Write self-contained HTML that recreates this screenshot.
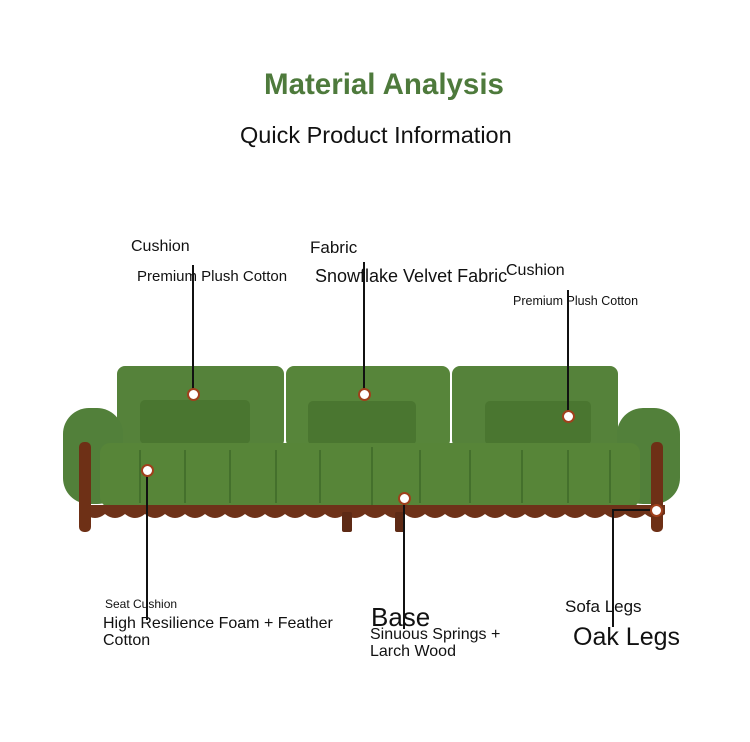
<!DOCTYPE html>
<html><head><style>
body{margin:0;width:750px;height:742px;background:#fff;position:relative;overflow:hidden;font-family:"Liberation Sans",sans-serif;color:#111}
.t{position:absolute;white-space:nowrap}
.a{position:absolute}
.ln{position:absolute;background:#111}
.dot{position:absolute;width:9px;height:9px;border-radius:50%;background:#fff;border:2px solid #a0401c;transform:translate(-6px,-6px)}
</style></head><body>
<div class="t" style="left:264px;top:68px;font-size:29.5px;font-weight:bold;color:#4e7a3c">Material Analysis</div>
<div class="t" style="left:240px;top:122px;font-size:23.5px">Quick Product Information</div>
<div class="t" style="left:131px;top:238px;font-size:16px">Cushion</div>
<div class="t" style="left:137px;top:268px;font-size:15px">Premium Plush Cotton</div>
<div class="t" style="left:310px;top:238px;font-size:17px">Fabric</div>
<div class="t" style="left:315px;top:266px;font-size:18px">Snowflake Velvet Fabric</div>
<div class="t" style="left:506px;top:262px;font-size:16px">Cushion</div>
<div class="t" style="left:513px;top:294px;font-size:12.5px">Premium Plush Cotton</div>
<div class="t" style="left:105px;top:597px;font-size:12px">Seat Cushion</div>
<div class="t" style="left:103px;top:615px;font-size:16px;line-height:17px">High Resilience Foam + Feather<br>Cotton</div>
<div class="t" style="left:371px;top:602px;font-size:26px">Base</div>
<div class="t" style="left:370px;top:626px;font-size:16px;line-height:17px">Sinuous Springs +<br>Larch Wood</div>
<div class="t" style="left:565px;top:597px;font-size:17px">Sofa Legs</div>
<div class="t" style="left:573px;top:623px;font-size:25px">Oak Legs</div>

<svg class="a" style="left:0;top:0" width="750" height="742">
<rect x="117" y="366" width="167" height="82" rx="8" fill="#55823a"/>
<rect x="286" y="366" width="164" height="82" rx="8" fill="#57853a"/>
<rect x="452" y="366" width="166" height="82" rx="8" fill="#55823a"/>
<rect x="140" y="400" width="110" height="44" rx="5" fill="#4a7630"/>
<rect x="308" y="401" width="108" height="44" rx="5" fill="#4a7630"/>
<rect x="485" y="401" width="106" height="44" rx="5" fill="#4a7630"/>
<rect x="63" y="408" width="60" height="96" rx="26" fill="#52803a"/>
<rect x="617" y="408" width="63" height="96" rx="26" fill="#52803a"/>
<rect x="100" y="443" width="540" height="64" rx="10" fill="#578538"/>
<g stroke="#3f6828" stroke-width="1.5">
<line x1="140" y1="450" x2="140" y2="503"/><line x1="185" y1="450" x2="185" y2="503"/><line x1="230" y1="450" x2="230" y2="503"/><line x1="276" y1="450" x2="276" y2="503"/><line x1="320" y1="450" x2="320" y2="503"/><line x1="372" y1="447" x2="372" y2="505"/><line x1="420" y1="450" x2="420" y2="503"/><line x1="470" y1="450" x2="470" y2="503"/><line x1="522" y1="450" x2="522" y2="503"/><line x1="568" y1="450" x2="568" y2="503"/><line x1="610" y1="450" x2="610" y2="503"/>
</g>
<path d="M85 505 H665 V514 Q655 522 645 514 Q635 522 625 514 Q615 522 605 514 Q595 522 585 514 Q575 522 565 514 Q555 522 545 514 Q535 522 525 514 Q515 522 505 514 Q495 522 485 514 Q475 522 465 514 Q455 522 445 514 Q435 522 425 514 Q415 522 405 514 Q395 522 385 514 Q375 522 365 514 Q355 522 345 514 Q335 522 325 514 Q315 522 305 514 Q295 522 285 514 Q275 522 265 514 Q255 522 245 514 Q235 522 225 514 Q215 522 205 514 Q195 522 185 514 Q175 522 165 514 Q155 522 145 514 Q135 522 125 514 Q115 522 105 514 Q95 522 85 514 Z" fill="#6e3219"/>
<rect x="79" y="442" width="12" height="90" rx="5" fill="#6e3016"/>
<rect x="651" y="442" width="12" height="90" rx="5" fill="#6e3016"/>
<rect x="342" y="512" width="10" height="20" rx="2" fill="#5e2a15"/>
<rect x="395" y="512" width="10" height="20" rx="2" fill="#5e2a15"/>
</svg>

<div class="ln" style="left:192px;top:265px;width:2px;height:129px"></div>
<div class="ln" style="left:363px;top:262px;width:2px;height:132px"></div>
<div class="ln" style="left:567px;top:290px;width:2px;height:126px"></div>
<div class="ln" style="left:146px;top:470px;width:2px;height:150px"></div>
<div class="ln" style="left:403px;top:497px;width:2px;height:132px"></div>
<div class="ln" style="left:612px;top:509px;width:44px;height:2px"></div>
<div class="ln" style="left:612px;top:509px;width:2px;height:118px"></div>

<div class="dot" style="left:193px;top:394px"></div>
<div class="dot" style="left:364px;top:394px"></div>
<div class="dot" style="left:568px;top:416px"></div>
<div class="dot" style="left:147px;top:470px"></div>
<div class="dot" style="left:404px;top:498px"></div>
<div class="dot" style="left:656px;top:510px"></div>
</body></html>
